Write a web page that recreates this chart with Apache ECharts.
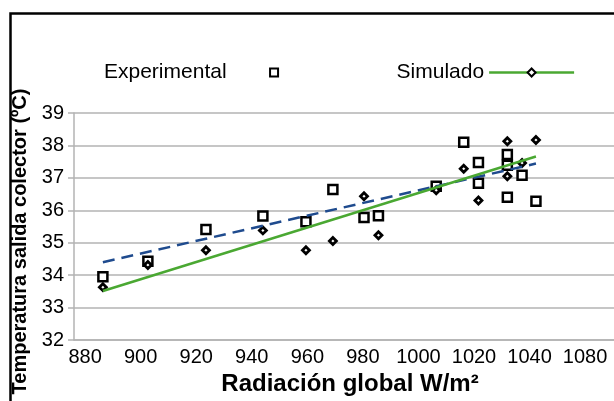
<!DOCTYPE html>
<html>
<head>
<meta charset="utf-8">
<script src="https://cdn.jsdelivr.net/npm/echarts@6/dist/echarts.min.js"></script>
<style>
html,body{margin:0;padding:0;background:#fff;}
#chart{width:614px;height:401px;}
</style>
</head>
<body>
<div id="chart"></div>
<script>
// ---- data ----
const xTickValues = [880, 900, 920, 940, 960, 980, 1000, 1020, 1040, 1060];
const xTickLabels = ['880', '900', '920', '940', '960', '980', '1000', '1020', '1040', '1080'];

const expX = [886.4, 902.6, 923.5, 944, 959.5, 969.2, 980.4, 985.6, 1006.4, 1016.3, 1021.6, 1021.6, 1032, 1032, 1032, 1037.3, 1042.3];
const expY = [33.95, 34.43, 35.41, 35.82, 35.65, 36.64, 35.78, 35.83, 36.74, 38.1, 37.47, 36.83, 37.72, 37.39, 36.4, 37.08, 36.28];

const simX = [886.4, 902.6, 923.5, 944, 959.5, 969.2, 980.4, 985.6, 1006.4, 1016.3, 1021.6, 1032, 1032, 1037.3, 1042.3];
const simY = [33.63, 34.31, 34.77, 35.38, 34.77, 35.05, 36.43, 35.23, 36.62, 37.28, 36.30, 38.13, 37.05, 37.46, 38.17];

const trendX = [886.4, 1042.3];
const expTrend = [34.40, 37.44];
const simTrend = [33.51, 37.66];

// ---- build ----
const pair = (xs, ys) => xs.map((x, i) => [x, ys[i]]);
const FONT = '"Liberation Sans", Arial, sans-serif';

const chart = echarts.init(document.getElementById('chart'), null, {renderer: 'canvas'});
chart.setOption({
  animation: false,
  backgroundColor: '#fff',
  textStyle: {fontFamily: FONT},
  grid: {left: 74, top: 113, width: 554, height: 228, containLabel: false},
  legend: {
    left: 104, top: 62, padding: 0,
    align: 'right',
    itemWidth: 85, itemHeight: 10,
    itemGap: 80,
    textStyle: {fontFamily: FONT, fontSize: 21, color: '#000'},
    data: [
      {name: 'Experimental'},
      {name: 'Simulado', lineStyle: {color: '#4aa832', width: 2.5, opacity: 1, type: 'solid'}}
    ]
  },
  xAxis: {
    type: 'value', min: 876, max: 1070.4,
    name: 'Radiación global W/m²',
    nameLocation: 'middle', nameGap: 32,
    nameTextStyle: {fontFamily: FONT, fontSize: 24, fontWeight: 'bold', color: '#000', padding: [0, 0, 0, 12]},
    axisLine: {show: true, lineStyle: {color: '#b3b3b3', width: 1.5}},
    axisTick: {show: false},
    splitLine: {show: false},
    axisLabel: {
      customValues: xTickValues,
      fontFamily: FONT, fontSize: 20, color: '#000', margin: 7,
      formatter: v => { const i = xTickValues.indexOf(v); return i >= 0 ? xTickLabels[i] : ''; }
    }
  },
  yAxis: {
    type: 'value', min: 32, max: 39, interval: 1,
    name: 'Temperatura salida colector (ºC)',
    nameLocation: 'middle', nameGap: 32, nameRotate: 90,
    nameTextStyle: {fontFamily: FONT, fontSize: 20, fontWeight: 'bold', color: '#000', padding: [0, 30, 0, 0]},
    axisLine: {show: true, lineStyle: {color: '#b3b3b3', width: 1.5}},
    axisTick: {show: true, inside: false, length: 6, lineStyle: {color: '#b3b3b3', width: 1.5}},
    splitLine: {show: true, lineStyle: {color: '#b3b3b3', width: 1.5}},
    axisLabel: {fontFamily: FONT, fontSize: 20, color: '#000', margin: 10}
  },
  series: [
    {
      name: 'Experimental', type: 'line',
      data: pair(expX, expY),
      symbol: 'rect', symbolSize: 9, showSymbol: true,
      lineStyle: {width: 0, opacity: 0},
      itemStyle: {color: '#fff', borderColor: '#000', borderWidth: 2.5},
      z: 3
    },
    {
      name: 'Simulado', type: 'line',
      data: pair(simX, simY),
      symbol: 'diamond', symbolSize: 7, showSymbol: true,
      lineStyle: {width: 0, opacity: 0},
      itemStyle: {color: '#fff', borderColor: '#000', borderWidth: 2.8},
      z: 4
    },
    {
      name: 'Tendencia experimental', type: 'line',
      data: pair(trendX, expTrend),
      symbol: 'none',
      lineStyle: {color: '#1f4b8e', width: 2.5, type: [12, 7]},
      z: 5
    },
    {
      name: 'Tendencia simulado', type: 'line',
      data: pair(trendX, simTrend),
      symbol: 'none',
      lineStyle: {color: '#4aa832', width: 2.5},
      z: 5
    }
  ],
  graphic: [{
    type: 'rect', silent: true, z: 100,
    shape: {x: 10.5, y: 13.5, width: 700, height: 500},
    style: {fill: null, stroke: '#000', lineWidth: 2.5}
  }]
});
</script>
</body>
</html>
